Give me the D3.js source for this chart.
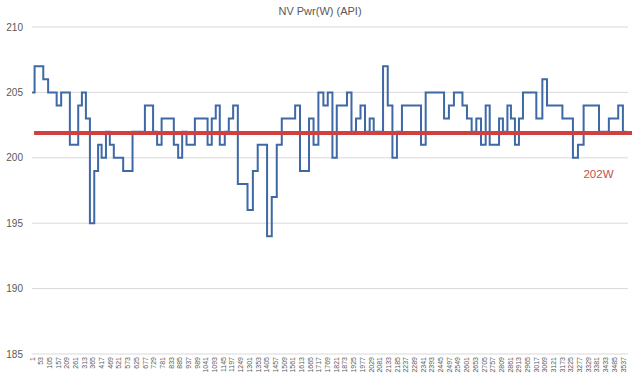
<!DOCTYPE html>
<html>
<head>
<meta charset="utf-8">
<script src="https://cdn.jsdelivr.net/npm/d3@7"></script>
<style>
  body { margin: 0; background: #fff; }
  #chart { width: 640px; height: 380px; }
</style>
</head>
<body>
<div id="chart"></div>
<script>
// step starts (sample index) and the power value held from there on
const stepStarts = [1, 16, 68, 97, 148, 175, 227, 277, 299, 323, 347, 373, 396, 417, 443, 466, 490, 546, 602, 676,
  725, 749, 776, 849, 875, 899, 925, 975, 1051, 1076, 1100, 1124, 1154, 1178, 1204, 1232, 1290, 1322, 1351, 1407,
  1435, 1465, 1495, 1575, 1604, 1658, 1685, 1714, 1744, 1770, 1798, 1824, 1885, 1912, 1939, 1966, 1993, 2021, 2045, 2101,
  2129, 2157, 2184, 2214, 2328, 2356, 2466, 2495, 2525, 2576, 2603, 2631, 2659, 2687, 2715, 2739, 2795, 2818, 2845, 2866,
  2890, 2914, 2938, 3018, 3054, 3082, 3174, 3237, 3267, 3301, 3393, 3452, 3508, 3536]
const stepValues = [205, 207, 206, 205, 204, 205, 201, 204, 205, 203, 195, 199, 201, 200, 202, 201, 200, 199, 202, 204,
  202, 201, 203, 201, 200, 202, 201, 203, 201, 203, 204, 201, 202, 203, 204, 198, 196, 199, 201, 194,
  197, 201, 203, 204, 199, 203, 201, 205, 204, 205, 200, 204, 205, 202, 203, 204, 202, 203, 202, 207,
  204, 200, 202, 204, 201, 205, 203, 204, 205, 204, 203, 202, 203, 201, 204, 201, 203, 202, 204, 203,
  201, 203, 205, 203, 206, 204, 203, 200, 201, 204, 202, 203, 204, 202]
const lastSample = 3556
const categoryCount = 3566

const xTickLabels = [1, 53, 105, 157, 209, 261, 313, 365, 417, 469, 521, 573, 625, 677, 729, 781, 833, 885, 937, 989,
  1041, 1093, 1145, 1197, 1249, 1301, 1353, 1405, 1457, 1509, 1561, 1613, 1665, 1717, 1769, 1821, 1873, 1925, 1977, 2029,
  2081, 2133, 2185, 2237, 2289, 2341, 2393, 2445, 2497, 2549, 2601, 2653, 2705, 2757, 2809, 2861, 2913, 2965, 3017, 3069,
  3121, 3173, 3225, 3277, 3329, 3381, 3433, 3485, 3537]
const yTicks = [185, 190, 195, 200, 205, 210]

const avgValue = 201.9
const avgLabel = '202W'
const title = 'NV Pwr(W) (API)'

const W = 640, H = 380
const margin = {top: 27, right: 12, bottom: 26, left: 32}
const font = '"Liberation Sans", Arial, sans-serif'

let svg = d3.select('#chart')
  .append('svg')
  .attr('width', W)
  .attr('height', H)

let x = d3.scaleLinear()
  .domain([0.5, categoryCount + 0.5])
  .range([margin.left, W - margin.right])
let y = d3.scaleLinear()
  .domain([185, 210])
  .range([H - margin.bottom, margin.top])

// gridlines
svg.append('g')
  .selectAll('line')
  .data(yTicks)
  .enter()
  .append('line')
  .attr('x1', x.range()[0])
  .attr('x2', x.range()[1])
  .attr('y1', d => y(d))
  .attr('y2', d => y(d))
  .style('stroke', '#d9d9d9')
  .style('stroke-width', 1)

// y labels
svg.append('g')
  .selectAll('text')
  .data(yTicks)
  .enter()
  .append('text')
  .attr('x', x.range()[0] - 9)
  .attr('y', d => y(d) + 3.5)
  .attr('text-anchor', 'end')
  .style('font-family', font)
  .style('font-size', '10px')
  .style('fill', '#595959')
  .text(d => d)

// x labels, rotated
svg.append('g')
  .selectAll('text')
  .data(xTickLabels)
  .enter()
  .append('text')
  .attr('transform', d => `translate(${x(d) + 2.5},${y(185) + 3}) rotate(-90)`)
  .attr('text-anchor', 'end')
  .style('font-family', font)
  .style('font-size', '7px')
  .style('fill', '#595959')
  .text(d => d)

// step series
let points = stepStarts.map((s, i) => [s, stepValues[i]])
points.push([lastSample, stepValues[stepValues.length - 1]])

let line = d3.line()
  .x(d => x(d[0]))
  .y(d => y(d[1]))
  .curve(d3.curveStepAfter)

svg.append('path')
  .datum(points)
  .attr('d', line)
  .style('fill', 'none')
  .style('stroke', '#3e68a6')
  .style('stroke-width', 2)

// average line
svg.append('line')
  .attr('x1', x(1) + 2)
  .attr('x2', x.range()[1] + 4)
  .attr('y1', y(avgValue))
  .attr('y2', y(avgValue))
  .style('stroke', '#d23f3f')
  .style('stroke-width', 4)

svg.append('text')
  .attr('x', x(3300))
  .attr('y', y(avgValue) + 45)
  .style('font-family', font)
  .style('font-size', '11.5px')
  .style('fill', '#c0504d')
  .text(avgLabel)

svg.append('text')
  .attr('x', W / 2)
  .attr('y', 15)
  .attr('text-anchor', 'middle')
  .style('font-family', font)
  .style('font-size', '11px')
  .style('fill', '#595959')
  .text(title)
</script>
</body>
</html>
